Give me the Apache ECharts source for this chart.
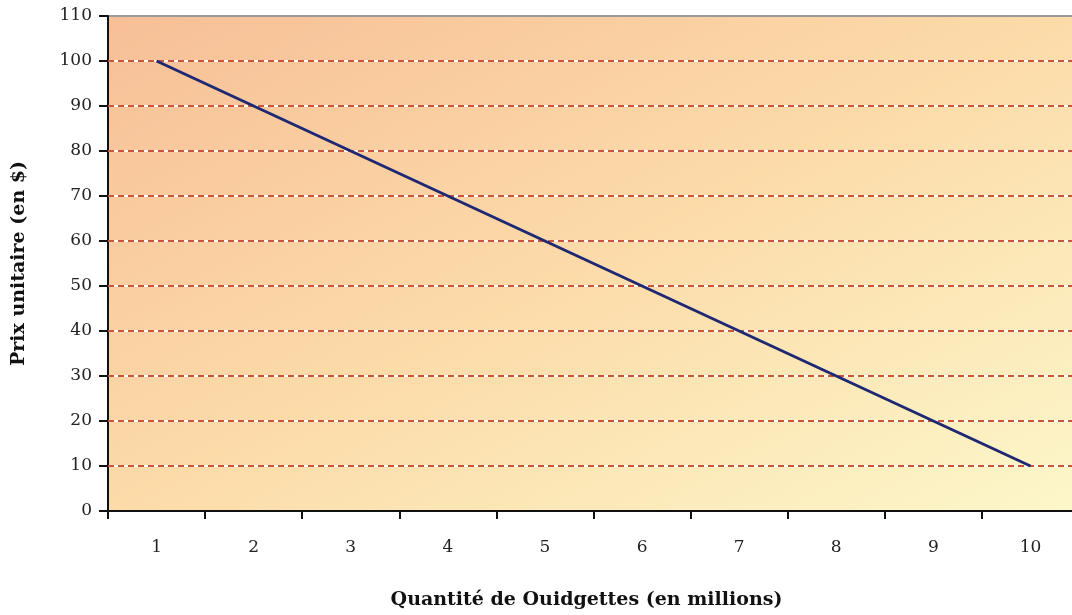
<!DOCTYPE html>
<html>
<head>
<meta charset="utf-8">
<script src="https://cdn.jsdelivr.net/npm/echarts@6/dist/echarts.min.js"></script>
<style>
  html, body { margin: 0; padding: 0; background: #ffffff; overflow: hidden; }
  /* the plot frame runs a few pixels past the right edge of the window */
  #chart { width: 1079px; height: 615px; }
</style>
</head>
<body>
<div id="chart"></div>
<script>
// Demand curve: unit price against quantity of Ouidgettes
const quantities = ['1', '2', '3', '4', '5', '6', '7', '8', '9', '10'];
const prices = [100, 90, 80, 70, 60, 50, 40, 30, 20, 10];
const priceTicks = [0, 10, 20, 30, 40, 50, 60, 70, 80, 90, 100, 110];

const xTitle = 'Quantité de Ouidgettes (en millions)';
const yTitle = 'Prix unitaire (en $)';

const serif = '"DejaVu Serif", "Liberation Serif", serif';

// gridlines at every inner tick (the 0 and 110 edges are the axis and frame)
const innerTicks = priceTicks.slice(1, -1);
const gridMarks = innerTicks.map(v => ({ yAxis: v }));

const chart = echarts.init(document.getElementById('chart'));

chart.setOption({
  animation: false,
  grid: {
    left: 108,
    right: 0,
    top: 16,
    bottom: 103,
    show: true,
    borderColor: '#9a9a9a',
    borderWidth: 2,
    backgroundColor: {
      type: 'linear', global: true,
      x: 108, y: 16, x2: 511, y2: 799,
      colorStops: [
        { offset: 0, color: '#f7bf97' },
        { offset: 0.5, color: '#fcdba9' },
        { offset: 1, color: '#fcf7ca' }
      ]
    }
  },
  xAxis: {
    type: 'category',
    data: quantities,
    boundaryGap: true,
    name: xTitle,
    nameLocation: 'middle',
    nameGap: 80,
    nameTextStyle: { fontFamily: serif, fontWeight: 'bold', fontSize: 19, color: '#111', padding: [0, 14, 0, 0] },
    axisLine: { lineStyle: { color: '#111', width: 2 } },
    axisTick: { show: true, length: 8, lineStyle: { color: '#111', width: 2 } },
    axisLabel: { fontFamily: serif, fontSize: 17, color: '#222', margin: 28 },
    splitLine: { show: false }
  },
  yAxis: {
    type: 'value',
    min: priceTicks[0],
    max: priceTicks[priceTicks.length - 1],
    interval: 10,
    name: yTitle,
    nameLocation: 'middle',
    nameGap: 79,
    nameRotate: 90,
    nameTextStyle: { fontFamily: serif, fontWeight: 'bold', fontSize: 19, color: '#111' },
    axisLine: { show: true, lineStyle: { color: '#111', width: 2 } },
    axisTick: { show: true, length: 9, lineStyle: { color: '#111', width: 2 } },
    axisLabel: { fontFamily: serif, fontSize: 17, color: '#222', margin: 16 },
    splitLine: { show: false }
  },
  series: [
    {
      // white base under the dashed gridlines
      type: 'line',
      data: [],
      silent: true,
      z: 1,
      markLine: {
        silent: true,
        symbol: 'none',
        label: { show: false },
        lineStyle: { color: '#ffffff', width: 2, type: 'solid', opacity: 0.9 },
        data: gridMarks
      }
    },
    {
      type: 'line',
      data: [],
      silent: true,
      z: 2,
      markLine: {
        silent: true,
        symbol: 'none',
        label: { show: false },
        lineStyle: { color: '#c9553a', width: 2, type: [6, 4] },
        data: gridMarks
      }
    },
    {
      type: 'line',
      data: prices,
      symbol: 'none',
      lineStyle: { color: '#1f2873', width: 3 },
      z: 5
    }
  ]
});
</script>
</body>
</html>
